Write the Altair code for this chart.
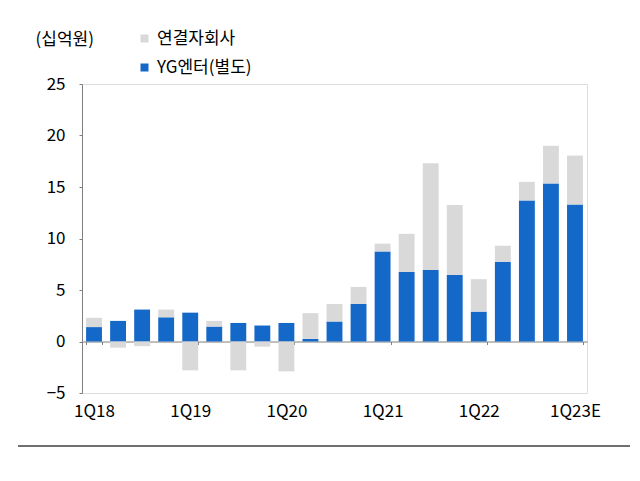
import altair as alt
import pandas as pd

quarters = ["1Q18", "2Q18", "3Q18", "4Q18", "1Q19", "2Q19", "3Q19", "4Q19",
            "1Q20", "2Q20", "3Q20", "4Q20", "1Q21", "2Q21", "3Q21", "4Q21",
            "1Q22", "2Q22", "3Q22", "4Q22", "1Q23E"]
yg_standalone = [1.4, 2.0, 3.1, 2.35, 2.8, 1.45, 1.8, 1.55, 1.8, 0.25, 1.95,
                 3.65, 8.75, 6.75, 6.95, 6.45, 2.9, 7.75, 13.7, 15.35, 13.3]
subsidiaries = [0.9, -0.6, -0.45, 0.75, -2.8, 0.55, -2.8, -0.5, -2.9, 2.5, 1.7,
                1.65, 0.75, 3.7, 10.35, 6.8, 3.15, 1.55, 1.8, 3.65, 4.75]
series_names = ["연결자회사", "YG엔터(별도)"]
x_label_values = ["1Q18", "1Q19", "1Q20", "1Q21", "1Q22", "1Q23E"]
y_ticks = [-5, 0, 5, 10, 15, 20, 25]

rows = []
for q, b, g in zip(quarters, yg_standalone, subsidiaries):
    rows.append({"q": q, "series": series_names[1], "v": b, "ord": 0})
    rows.append({"q": q, "series": series_names[0], "v": g, "ord": 1})
df = pd.DataFrame(rows)

FONT = "Noto Sans CJK KR"
W, H = 505, 309
zero_offset = -H * 5 / 30

bars = alt.Chart(df).mark_bar().encode(
    x=alt.X("q:N", sort=quarters,
            scale=alt.Scale(paddingInner=0.34, paddingOuter=0.17),
            axis=alt.Axis(title=None, values=x_label_values, labelAngle=0,
                          tickBand="extent", offset=zero_offset,
                          labelPadding=59, tickSize=3, domainColor="#7f7f7f",
                          tickColor="#7f7f7f", labelFontSize=17, labelFont=FONT,
                          labelColor="#000000")),
    y=alt.Y("v:Q", stack="zero",
            scale=alt.Scale(domain=[-5, 25], nice=False),
            axis=alt.Axis(title="(십억원)", titleAngle=0, titleAlign="left",
                          titleBaseline="middle", titleX=-47, titleY=-45,
                          titleFontSize=17, titleFontWeight="normal",
                          titleFont=FONT, titleColor="#000000",
                          values=y_ticks, grid=False, tickSize=3,
                          labelPadding=14, domainColor="#7f7f7f",
                          tickColor="#7f7f7f", labelFontSize=17,
                          labelFont=FONT, labelColor="#000000")),
    color=alt.Color("series:N",
                    scale=alt.Scale(domain=series_names,
                                    range=["#d9d9d9", "#1468c8"]),
                    legend=alt.Legend(title=None, orient="none", legendX=54,
                                      legendY=-54, symbolType="square",
                                      symbolSize=64, symbolStrokeWidth=0,
                                      labelFontSize=17, labelFont=FONT,
                                      labelColor="#000000", rowPadding=11,
                                      labelOffset=4)),
    order=alt.Order("ord:Q"),
)

bottom_line = alt.Chart(pd.DataFrame({"a": [0]})).mark_rule(
    color="#404040", strokeWidth=1.3
).encode(x=alt.value(-64), x2=alt.value(548), y=alt.value(362))

chart = alt.layer(bars, bottom_line).properties(
    width=W, height=H,
    autosize=alt.AutoSizeParams(type="none"),
    padding={"left": 74, "top": 76, "right": 45, "bottom": 80},
).configure_view(stroke=None).configure(background="white")

chart.save("out.html", embed_options={"renderer": "svg", "actions": False})
